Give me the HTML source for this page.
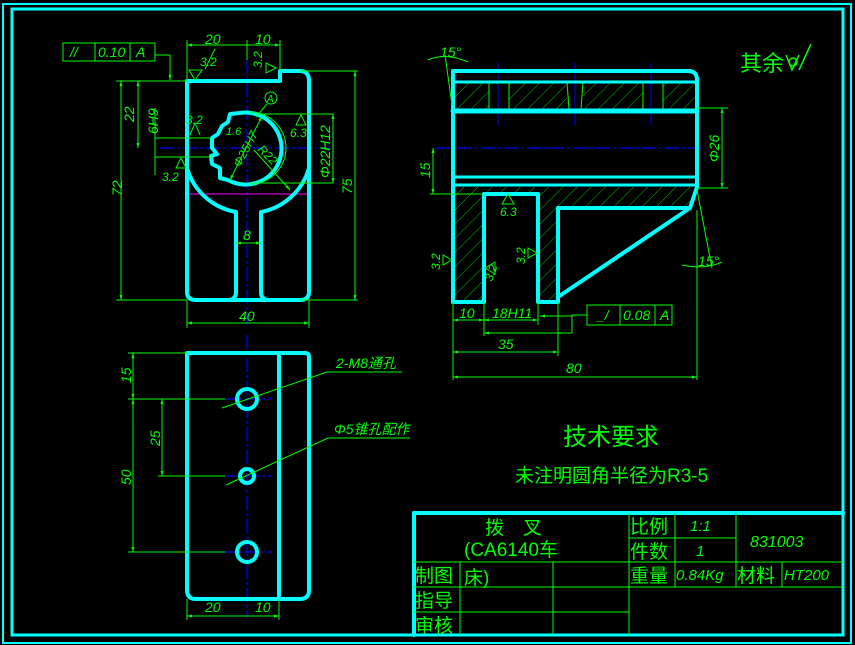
<!DOCTYPE html>
<html><head><meta charset="utf-8"><style>
html,body{margin:0;padding:0;background:#000;}
svg{display:block;}
text{font-family:"Liberation Sans","Noto Sans CJK SC",sans-serif;fill:#00ff00;}
.n{font-style:italic;font-size:14px;}
.c{stroke:#00ffff;stroke-width:4;fill:none;stroke-linejoin:round;stroke-linecap:round;}
.g{stroke:#00ff00;stroke-width:1;fill:none;}
.b{stroke:#0000ff;stroke-width:1.2;fill:none;stroke-dasharray:14 3 3 3;}
</style></head><body>
<svg width="855" height="645" viewBox="0 0 855 645" xmlns="http://www.w3.org/2000/svg">
<defs>
<pattern id="hat" width="10" height="10" patternUnits="userSpaceOnUse" patternTransform="rotate(45)">
<line x1="0" y1="0" x2="0" y2="10" stroke="#00c000" stroke-width="1"/>
</pattern>
<marker id="a" viewBox="0 0 10 10" refX="10" refY="5" markerWidth="7" markerHeight="5" orient="auto-start-reverse"><path d="M0,2 L10,5 L0,8z" fill="#00ff00"/></marker>
</defs>
<rect x="0" y="0" width="855" height="645" fill="#000"/>
<rect x="3" y="4" width="848" height="639" fill="none" stroke="#00ffff" stroke-width="2"/>
<rect x="12" y="9" width="831" height="626" fill="none" stroke="#00ffff" stroke-width="3"/>

<!-- ===== top-left view ===== -->
<line x1="247" y1="60" x2="247" y2="325" class="b"/>
<line x1="160" y1="148" x2="330" y2="148" class="b"/>
<line x1="187" y1="194" x2="309" y2="194" stroke="#ff00ff" stroke-width="1"/>
<path class="c" d="M187,81 L280,81 L280,71 L300,71 Q309,71 309,81 L309,292 Q309,300 300,300 L196,300 Q187,300 187,292 Z"/>
<path class="c" d="M187,168 A62,62 0 0 0 236,212 L236,292 Q236,300 228,300"/>
<path class="c" d="M309,168 A62,62 0 0 1 261,212 L261,292 Q261,300 269,300"/>
<path class="c" d="M240,113 A36,36 0 1 1 228,180 L220,178 L220,168 L212,164 L211,156 L217,154 L212,148 L212,138 L218,134 L222,126 L228,122 L230,114 Z"/>
<path class="g" d="M250,112 A36,36 0 0 1 250,184"/>
<line x1="187" y1="45" x2="280" y2="45" class="g" marker-start="url(#a)" marker-end="url(#a)"/>
<line x1="187" y1="40" x2="187" y2="81" class="g"/><line x1="280" y1="40" x2="280" y2="71" class="g"/>
<line x1="247" y1="40" x2="247" y2="60" class="g"/>
<text x="205" y="44" class="n">20</text><text x="255" y="44" class="n">10</text>
<rect x="63" y="43" width="92" height="18" class="g"/><line x1="95" y1="43" x2="95" y2="61" class="g"/><line x1="130" y1="43" x2="130" y2="61" class="g"/>
<text x="70" y="57" class="n">//</text><text x="98" y="57" class="n">0.10</text><text x="136" y="57" class="n">A</text>
<polyline points="155,55 170,55 170,80" class="g" marker-end="url(#a)"/>
<line x1="116" y1="81" x2="187" y2="81" class="g"/>
<line x1="116" y1="300" x2="187" y2="300" class="g"/>
<line x1="121" y1="81" x2="121" y2="300" class="g" marker-start="url(#a)" marker-end="url(#a)"/>
<text transform="translate(122,196) rotate(-90)" class="n">72</text>
<line x1="138" y1="81" x2="138" y2="148" class="g" marker-start="url(#a)" marker-end="url(#a)"/>
<text transform="translate(134,122) rotate(-90)" class="n">22</text>
<line x1="155" y1="108" x2="155" y2="175" class="g"/>
<line x1="155" y1="138" x2="212" y2="138" class="g"/><line x1="155" y1="157" x2="212" y2="157" class="g"/>
<text transform="translate(158,134) rotate(-90)" class="n">6H9</text>
<path d="M190,135 l5,-12 l5,12 M176,168 l5,-10 l5,10 z" class="g"/>
<text x="186" y="124" class="n" style="font-size:12px">3.2</text><text x="162" y="181" class="n" style="font-size:12px">3.2</text>
<path d="M195,80 l-6,-10 h13 z M205,69 l10,-20" class="g"/><text x="200" y="66" class="n" style="font-size:12px">3.2</text>
<path d="M276,68 l-10,-5 v10 z" class="g"/><text transform="translate(262,68) rotate(-90)" class="n" style="font-size:12px">3.2</text>
<circle cx="271" cy="98" r="6" class="g"/><text x="267" y="102" class="n" style="font-size:10px">A</text>
<line x1="267" y1="104" x2="256" y2="117" class="g"/>
<line x1="260" y1="114" x2="333" y2="114" class="g"/><line x1="260" y1="183" x2="333" y2="183" class="g"/>
<line x1="333" y1="114" x2="333" y2="183" class="g" marker-start="url(#a)" marker-end="url(#a)"/>
<text transform="translate(330,178) rotate(-90)" class="n">Φ22H12</text>
<line x1="300" y1="71" x2="358" y2="71" class="g"/><line x1="300" y1="300" x2="358" y2="300" class="g"/>
<line x1="355" y1="71" x2="355" y2="300" class="g" marker-start="url(#a)" marker-end="url(#a)"/>
<text transform="translate(352,194) rotate(-90)" class="n">75</text>
<line x1="262" y1="116" x2="230" y2="180" class="g" marker-start="url(#a)" marker-end="url(#a)"/>
<text transform="translate(240,168) rotate(-62)" class="n" style="font-size:12px">Φ25H7</text>
<line x1="254" y1="150" x2="290" y2="190" class="g" marker-end="url(#a)"/>
<text transform="translate(257,150) rotate(45)" class="n" style="font-size:12px">R22</text>
<path d="M296,125 l5,-10 l5,10 z" class="g"/><text x="290" y="137" class="n" style="font-size:12px">6.3</text>
<text x="226" y="135" class="n" style="font-size:11px">1.6</text>
<line x1="236" y1="243" x2="261" y2="243" class="g" marker-start="url(#a)" marker-end="url(#a)"/>
<text x="243" y="240" class="n">8</text>
<line x1="187" y1="300" x2="187" y2="328" class="g"/><line x1="309" y1="300" x2="309" y2="328" class="g"/>
<line x1="187" y1="323" x2="309" y2="323" class="g" marker-start="url(#a)" marker-end="url(#a)"/>
<text x="239" y="321" class="n">40</text>

<!-- ===== right view ===== -->
<rect x="453" y="82" width="244" height="27" fill="url(#hat)"/>
<path d="M453,187 L697,187 L690,208 L558,208 L558,302 L538,302 L538,194 L484,194 L484,302 L453,302 Z" fill="url(#hat)"/>
<rect x="489" y="84" width="20" height="24" fill="#000"/><rect x="567" y="84" width="16" height="24" fill="#000"/><rect x="643" y="84" width="20" height="24" fill="#000"/>
<line x1="489" y1="82" x2="489" y2="109" class="g"/><line x1="509" y1="82" x2="509" y2="109" class="g"/>
<line x1="567" y1="82" x2="569" y2="109" class="g"/><line x1="583" y1="82" x2="581" y2="109" class="g"/>
<line x1="643" y1="82" x2="643" y2="109" class="g"/><line x1="663" y1="82" x2="663" y2="109" class="g"/>
<line x1="498" y1="63" x2="498" y2="125" stroke="#0000ff"/><line x1="575" y1="63" x2="575" y2="125" stroke="#0000ff"/><line x1="651" y1="63" x2="651" y2="125" stroke="#0000ff"/>
<line x1="435" y1="148" x2="705" y2="148" class="b"/>
<path class="c" d="M453,302 L453,71 L688,71 Q697,71 697,80 L697,187 L690,208"/>
<line x1="453" y1="82" x2="697" y2="82" class="c" style="stroke-width:3"/>
<line x1="453" y1="111" x2="697" y2="111" class="c" style="stroke-width:5"/>
<line x1="455" y1="177" x2="695" y2="177" class="c" style="stroke-width:3"/>
<line x1="453" y1="185" x2="697" y2="185" class="c" style="stroke-width:3"/>
<path class="c" d="M453,302 L484,302 L484,194 L538,194 L538,302 L558,302 L558,208 L690,208 L558,297"/>
<line x1="697" y1="108" x2="728" y2="108" class="g"/><line x1="697" y1="188" x2="728" y2="188" class="g"/>
<line x1="722" y1="108" x2="722" y2="188" class="g" marker-start="url(#a)" marker-end="url(#a)"/>
<text transform="translate(719,162) rotate(-90)" class="n">Φ26</text>
<line x1="430" y1="194" x2="484" y2="194" class="g"/>
<line x1="433" y1="148" x2="433" y2="194" class="g" marker-start="url(#a)" marker-end="url(#a)"/>
<text transform="translate(430,178) rotate(-90)" class="n">15</text>
<path d="M428,60 Q445,52 468,62 M445,55 L452,105" class="g"/><text x="440" y="57" class="n">15°</text>
<path d="M682,265 Q705,270 722,262 M697,190 L712,268" class="g"/><text x="698" y="266" class="n">15°</text>
<path d="M508,194 l-6,10 h12 z" class="g"/><text x="500" y="216" class="n" style="font-size:12px">6.3</text>
<path d="M452,260 l-9,-5 v10 z" class="g"/><text transform="translate(440,270) rotate(-90)" class="n" style="font-size:12px">3.2</text>
<path d="M485,268 l10,-6 v12 z" class="g"/><text transform="translate(492,282) rotate(-70)" class="n" style="font-size:12px">3.2</text>
<path d="M537,253 l-9,-5 v10 z" class="g"/><text transform="translate(525,264) rotate(-90)" class="n" style="font-size:12px">3.2</text>
<line x1="453" y1="302" x2="453" y2="380" class="g"/><line x1="484" y1="302" x2="484" y2="336" class="g"/>
<line x1="538" y1="302" x2="538" y2="325" class="g"/><line x1="558" y1="302" x2="558" y2="356" class="g"/>
<line x1="697" y1="210" x2="697" y2="380" class="g"/>
<line x1="453" y1="320" x2="484" y2="320" class="g" marker-start="url(#a)" marker-end="url(#a)"/>
<line x1="484" y1="320" x2="538" y2="320" class="g" marker-start="url(#a)" marker-end="url(#a)"/>
<text x="459" y="318" class="n">10</text><text x="492" y="318" class="n">18H11</text>
<line x1="484" y1="333" x2="572" y2="333" class="g" marker-start="url(#a)"/>
<polyline points="572,333 572,315 587,315" class="g"/>
<line x1="540" y1="316" x2="572" y2="316" class="g" marker-start="url(#a)"/>
<rect x="587" y="305" width="85" height="20" class="g"/><line x1="620" y1="305" x2="620" y2="325" class="g"/><line x1="655" y1="305" x2="655" y2="325" class="g"/>
<text x="597" y="320" class="n">_/</text><text x="623" y="320" class="n">0.08</text><text x="660" y="320" class="n">A</text>
<line x1="453" y1="352" x2="558" y2="352" class="g" marker-start="url(#a)" marker-end="url(#a)"/>
<text x="498" y="349" class="n">35</text>
<line x1="453" y1="377" x2="697" y2="377" class="g" marker-start="url(#a)" marker-end="url(#a)"/>
<text x="566" y="373" class="n">80</text>
<text x="740" y="71" style="font-size:22px">其余</text>
<path d="M786,55 l6,15 l7,-15 M799,70 l12,-26" class="g" style="stroke-width:1.5"/><circle cx="793" cy="62" r="4" class="g" style="stroke-width:1.5"/>

<!-- ===== bottom-left view ===== -->
<line x1="247" y1="335" x2="247" y2="618" class="b"/>
<line x1="222" y1="399" x2="272" y2="399" class="b"/><line x1="222" y1="476" x2="272" y2="476" class="b"/><line x1="222" y1="552" x2="272" y2="552" class="b"/>
<path class="c" d="M187,353 L305,353 Q309,353 309,357 L309,590 Q309,599 300,599 L196,599 Q187,599 187,590 Z"/>
<line x1="279" y1="353" x2="279" y2="599" class="c"/>
<circle cx="247" cy="399" r="10" class="c"/><circle cx="247" cy="476" r="7" class="c"/><circle cx="247" cy="552" r="10" class="c"/>
<line x1="128" y1="353" x2="187" y2="353" class="g"/><line x1="128" y1="399" x2="225" y2="399" class="g"/>
<line x1="158" y1="476" x2="225" y2="476" class="g"/><line x1="128" y1="552" x2="225" y2="552" class="g"/>
<line x1="133" y1="353" x2="133" y2="399" class="g" marker-start="url(#a)" marker-end="url(#a)"/>
<line x1="133" y1="399" x2="133" y2="552" class="g" marker-start="url(#a)" marker-end="url(#a)"/>
<line x1="162" y1="399" x2="162" y2="476" class="g" marker-start="url(#a)" marker-end="url(#a)"/>
<text transform="translate(131,383) rotate(-90)" class="n">15</text>
<text transform="translate(131,485) rotate(-90)" class="n">50</text>
<text transform="translate(160,446) rotate(-90)" class="n">25</text>
<polyline points="402,372 327,372 222,408" class="g"/><text x="336" y="368" class="n">2-M8通孔</text>
<polyline points="410,438 328,438 226,485" class="g"/><text x="334" y="434" class="n">Φ5锥孔配作</text>
<line x1="187" y1="599" x2="187" y2="620" class="g"/><line x1="279" y1="599" x2="279" y2="620" class="g"/>
<line x1="187" y1="616" x2="279" y2="616" class="g" marker-start="url(#a)" marker-end="url(#a)"/>
<text x="205" y="612" class="n">20</text><text x="255" y="612" class="n">10</text>

<text x="563" y="445" style="font-size:24px">技术要求</text>
<text x="515" y="482" style="font-size:19px">未注明圆角半径为R3-5</text>

<line x1="414" y1="513" x2="843" y2="513" class="c" style="stroke-width:4"/>
<line x1="414" y1="513" x2="414" y2="635" class="c" style="stroke-width:4"/>
<line x1="414" y1="562" x2="843" y2="562" class="g"/>
<line x1="414" y1="587" x2="843" y2="587" class="g"/>
<line x1="414" y1="612" x2="629" y2="612" class="g"/>
<line x1="629" y1="538" x2="736" y2="538" class="g"/>
<line x1="460" y1="562" x2="460" y2="635" class="g"/><line x1="553" y1="562" x2="553" y2="635" class="g"/>
<line x1="629" y1="513" x2="629" y2="635" class="g"/><line x1="675" y1="513" x2="675" y2="587" class="g"/>
<line x1="736" y1="513" x2="736" y2="587" class="g"/><line x1="782" y1="562" x2="782" y2="587" class="g"/>
<text x="485" y="534" style="font-size:19px">拨　叉</text>
<text x="464" y="556" style="font-size:19px">(CA6140车</text>
<text x="464" y="584" style="font-size:19px">床)</text>
<text x="415" y="582" style="font-size:19px">制图</text><text x="415" y="607" style="font-size:19px">指导</text><text x="415" y="632" style="font-size:19px">审核</text>
<text x="630" y="533" style="font-size:19px">比例</text><text x="630" y="558" style="font-size:19px">件数</text><text x="630" y="582" style="font-size:19px">重量</text>
<text x="690" y="531" class="n" style="font-size:15px">1:1</text><text x="696" y="556" class="n" style="font-size:15px">1</text>
<text x="750" y="547" class="n" style="font-size:16px">831003</text>
<text x="676" y="580" class="n" style="font-size:15px">0.84Kg</text>
<text x="737" y="582" style="font-size:19px">材料</text>
<text x="784" y="580" class="n" style="font-size:15px">HT200</text>
</svg>
</body></html>
